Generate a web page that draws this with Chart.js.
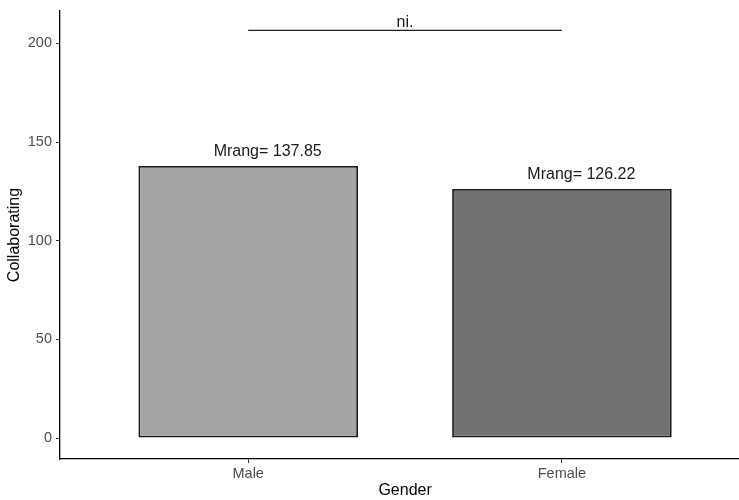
<!DOCTYPE html>
<html>
<head>
<meta charset="utf-8">
<script src="https://cdn.jsdelivr.net/npm/chart.js@4/dist/chart.umd.min.js"></script>
<style>
  html, body { margin: 0; padding: 0; background: #fff; }
  #wrap { width: 739px; height: 500px; }
</style>
</head>
<body>
<div id="wrap"><canvas id="c" width="739" height="500"></canvas></div>
<script>
// Mean ranks of the "Collaborating" score by gender
const categories = ['Male', 'Female'];
const meanRanks = [137.85, 126.22];
const barColors = ['#a5a5a5', '#727272'];
const yTicks = [0, 50, 100, 150, 200];
const bracketLabel = 'ni.';
const bracketHeight = 206.6;
const labelPrefix = 'Mrang= ';
const xTitle = 'Gender';

const FONT = "'Liberation Sans', Arial, Helvetica, sans-serif";

// Draws the mean-rank labels, the text over the bracket and the x-axis title
const annotate = {
  id: 'annotate',
  afterDatasetsDraw(chart) {
    const ctx = chart.ctx;
    const xs = chart.scales.x;
    const unit = xs.getPixelForValue(2) - xs.getPixelForValue(1);
    ctx.save();
    ctx.font = '16px ' + FONT;
    ctx.fillStyle = '#1a1a1a';
    ctx.textAlign = 'center';
    ctx.textBaseline = 'alphabetic';
    const bars = chart.getDatasetMeta(0).data;
    bars.forEach((el, i) => {
      ctx.fillText(labelPrefix + meanRanks[i].toFixed(2), el.x + unit * 0.062, el.y - 10);
    });
    const line = chart.getDatasetMeta(1).data;
    const mid = (line[0].x + line[1].x) / 2;
    ctx.fillText(bracketLabel, mid, line[0].y - 3.5);
    // axis title sits under the middle of the panel
    ctx.fillStyle = '#000000';
    ctx.textBaseline = 'middle';
    ctx.fillText(xTitle, xs.getPixelForValue(1.5), 490.5);
    ctx.restore();
  }
};

new Chart(document.getElementById('c'), {
  type: 'bar',
  data: {
    datasets: [
      {
        label: 'Collaborating',
        data: meanRanks.map((v, i) => ({ x: i + 1, y: v })),
        backgroundColor: barColors,
        borderColor: '#1a1a1a',
        borderWidth: 1.8,
        borderSkipped: false,
        categoryPercentage: 1,
        barPercentage: 0.7
      },
      {
        type: 'line',
        label: 'bracket',
        data: [{ x: 1, y: bracketHeight }, { x: 2, y: bracketHeight }],
        borderColor: '#222222',
        borderWidth: 1.1,
        pointRadius: 0,
        fill: false
      }
    ]
  },
  options: {
    responsive: false,
    animation: false,
    layout: { padding: { top: 11, right: 0, bottom: 0, left: 0 } },
    plugins: { legend: { display: false }, tooltip: { enabled: false } },
    scales: {
      x: {
        type: 'linear',
        min: 0.4,
        max: 2.5645,
        offset: false,
        afterBuildTicks: (s) => { s.ticks = categories.map((_, i) => ({ value: i + 1 })); },
        afterFit: (s) => { s.height = 41; s.paddingLeft = 0; s.paddingRight = 0; },
        ticks: {
          callback: (v) => categories[v - 1] || '',
          color: '#4d4d4d',
          font: { family: FONT, size: 14.5 },
          padding: 2,
          maxRotation: 0
        },
        grid: { drawOnChartArea: false, drawTicks: true, tickLength: 4, color: '#333333', offset: false },
        border: { display: true, color: '#000000', width: 1.3 },
        title: { display: false }
      },
      y: {
        min: -10.6,
        max: 216.4,
        afterBuildTicks: (s) => { s.ticks = yTicks.map(v => ({ value: v })); },
        afterFit: (s) => { s.width = 60; s.paddingTop = 0; s.paddingBottom = 0; },
        ticks: {
          callback: (v) => String(v),
          color: '#4d4d4d',
          font: { family: FONT, size: 14.5 },
          padding: 4
        },
        grid: { drawOnChartArea: false, drawTicks: true, tickLength: 4, color: '#333333' },
        border: { display: true, color: '#000000', width: 1.3 },
        title: { display: true, text: 'Collaborating', color: '#000000', font: { family: FONT, size: 16 }, padding: { top: 5, bottom: 0 } }
      }
    }
  },
  plugins: [annotate]
});
</script>
</body>
</html>
